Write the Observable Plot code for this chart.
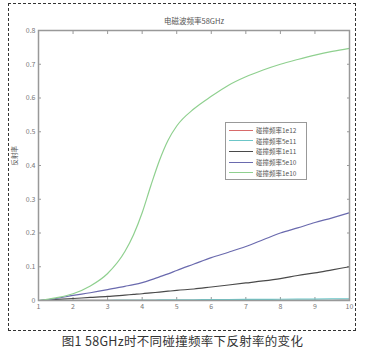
<!DOCTYPE html>
<html><head><meta charset="utf-8">
<script src="https://cdn.jsdelivr.net/npm/d3@7"></script>
<script src="https://cdn.jsdelivr.net/npm/@observablehq/plot@0.6"></script>
<style>
body{margin:0;background:#fff;font-family:"Noto Sans CJK SC","Noto Sans",sans-serif;}
#wrap{position:relative;width:365px;height:353px;overflow:hidden;}
#frame{position:absolute;left:8px;top:3px;width:346px;height:326px;border:1px dashed #333;}
#chart{position:absolute;left:0;top:0;}
#legend{position:absolute;left:225px;top:122px;width:82px;height:58px;border:1px solid #999;background:#fff;font-size:6.5px;color:#555;box-sizing:border-box;padding-top:2px;}
#legend .row{display:flex;align-items:center;height:10.6px;white-space:nowrap;}
#legend .sw{width:24px;height:0;border-top:1.5px solid;margin:0 3px 0 3px;}
#caption{position:absolute;left:0;width:365px;top:331px;text-align:center;font-size:12.5px;color:#333;letter-spacing:0.3px;}
</style></head>
<body><div id="wrap"><div id="chart"></div><div id="frame"></div><div id="legend"></div><div id="caption"></div></div>
<script>
const xs =    [1,1.5,2,2.5,3,3.5,3.75,4,4.25,4.5,4.75,5,5.5,6,6.5,7,7.5,8,8.5,9,9.5,10];
const seriesNames = ["碰撞频率1e12","碰撞频率5e11","碰撞频率1e11","碰撞频率5e10","碰撞频率1e10"];
const seriesColors = ["#d86a6a","#6cc6c8","#4a4a4a","#6a6aae","#8fd08f"];
const r1e12 = [0,0,0.0001,0.0001,0.0002,0.0002,0.0002,0.0003,0.0003,0.0003,0.0004,0.0004,0.0004,0.0005,0.0005,0.0006,0.0006,0.0007,0.0007,0.0008,0.0008,0.0009];
const r5e11 = [0,0.0002,0.0004,0.0006,0.0008,0.001,0.0012,0.0013,0.0015,0.0016,0.0018,0.0019,0.0022,0.0025,0.0028,0.0031,0.0034,0.0037,0.004,0.0043,0.0046,0.005];
const r1e11 = [0,0.003,0.006,0.009,0.012,0.016,0.018,0.02,0.0225,0.025,0.0275,0.03,0.034,0.04,0.046,0.052,0.058,0.065,0.074,0.082,0.091,0.1];
const r5e10 = [0,0.006,0.015,0.023,0.032,0.042,0.047,0.053,0.061,0.07,0.079,0.089,0.108,0.127,0.143,0.16,0.18,0.2,0.215,0.231,0.245,0.26];
const r1e10 = [0,0.008,0.02,0.043,0.08,0.145,0.195,0.26,0.34,0.415,0.475,0.517,0.568,0.605,0.638,0.663,0.683,0.70,0.714,0.727,0.738,0.747];
const xTicks = [1,2,3,4,5,6,7,8,9,10];
const yTicks = [0,0.1,0.2,0.3,0.4,0.5,0.6,0.7,0.8];
const titleText = "电磁波频率58GHz";
const yLabel = "反射率";
const captionText = "图1 58GHz时不同碰撞频率下反射率的变化";

const all = [r1e12,r5e11,r1e11,r5e10,r1e10];
const data = [];
all.forEach((arr,i)=>arr.forEach((v,j)=>data.push({x:xs[j],y:v,s:seriesNames[i]})));

const tickFmt = d => d===0 ? "0" : String(d);
const plot = Plot.plot({
  width:365, height:330,
  marginLeft:38, marginRight:16, marginTop:30, marginBottom:30,
  style:{fontFamily:"Noto Sans CJK SC, Noto Sans, sans-serif", fontSize:"7px", color:"#777", background:"transparent"},
  x:{domain:[1,10]},
  y:{domain:[0,0.8]},
  color:{domain:seriesNames, range:seriesColors},
  marks:[
    Plot.axisX({ticks:xTicks, tickSize:0, tickPadding:4, tickFormat:tickFmt, label:null, fill:"#777"}),
    Plot.axisX({ticks:xTicks, tickSize:-3, text:null, label:null, stroke:"#999"}),
    Plot.axisX({anchor:"top", ticks:xTicks, tickSize:-3, text:null, label:null, stroke:"#999"}),
    Plot.axisY({ticks:yTicks, tickSize:0, tickPadding:3, tickFormat:tickFmt, label:null, fill:"#777"}),
    Plot.axisY({ticks:yTicks, tickSize:-3, text:null, label:null, stroke:"#999"}),
    Plot.axisY({anchor:"right", ticks:yTicks, tickSize:-3, text:null, label:null, stroke:"#999"}),
    Plot.line(data, {x:"x", y:"y", z:"s", stroke:"s", strokeWidth:1.2, curve:"monotone-x"}),
    Plot.frame({stroke:"#999", strokeWidth:1.5}),
    Plot.text([titleText], {frameAnchor:"top", dy:-12, fontSize:7.5, fill:"#555"}),
    Plot.text([yLabel], {frameAnchor:"left", dx:-24, rotate:-90, fontSize:6.5, fill:"#555"})
  ]
});
document.getElementById("chart").appendChild(plot);

const lg = document.getElementById("legend");
seriesNames.forEach((n,i)=>{
  const r = document.createElement("div"); r.className="row";
  const sw = document.createElement("span"); sw.className="sw"; sw.style.borderColor=seriesColors[i];
  const t = document.createElement("span"); t.textContent=n;
  r.appendChild(sw); r.appendChild(t); lg.appendChild(r);
});
document.getElementById("caption").textContent = captionText;
</script></body></html>
